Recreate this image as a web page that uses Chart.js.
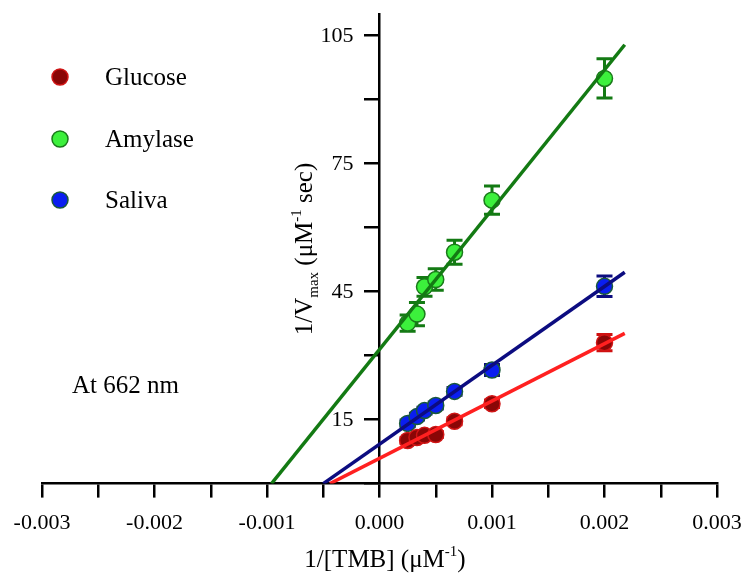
<!DOCTYPE html>
<html><head><meta charset="utf-8">
<script src="https://cdn.jsdelivr.net/npm/chart.js@4"></script>
<style>html,body{margin:0;padding:0;background:#fff;}#wrap{width:744px;height:575px;}</style>
</head><body><div id="wrap"><canvas id="c" width="744" height="575"></canvas></div>
<script>
// ---- data ----
const invTMB = [0.00025, 0.000333, 0.0004, 0.0005, 0.000667, 0.001, 0.002];
const glucose = [10.1, 10.8, 11.3, 11.5, 14.6, 18.7, 33.0];
const glucoseErr = [0.7, 0.7, 0.7, 0.7, 0.8, 0.9, 1.9];
const amylase = [37.6, 39.7, 46.1, 47.8, 54.2, 66.4, 94.9];
const amylaseErr = [1.9, 2.7, 2.2, 2.5, 2.8, 3.3, 4.6];
const saliva = [14.1, 15.7, 17.1, 18.3, 21.6, 26.6, 46.2];
const salivaErr = [0.8, 0.8, 0.8, 0.8, 0.9, 1.3, 2.4];
const glucoseFitX = [-0.00044, 0.00218];
const glucoseFitY = [0, 35.2];
const amylaseFitX = [-0.00096, 0.00218];
const amylaseFitY = [0, 102.8];
const salivaFitX = [-0.0005, 0.00218];
const salivaFitY = [0, 49.5];
const xTickLabels = ['-0.003', '-0.002', '-0.001', '0.000', '0.001', '0.002', '0.003'];
const yTickLabels = ['15', '45', '75', '105'];
const seriesNames = ['Glucose', 'Amylase', 'Saliva'];
const noteText = 'At 662 nm';

const SERIF = '"Liberation Serif", "Times New Roman", serif';
const pts = (xs, ys) => xs.map((x, i) => ({x: x, y: ys[i]}));

const styles = {
  Glucose: {fill: '#8a0606', border: '#d01515', line: '#ff2020', err: '#d01010'},
  Amylase: {fill: '#3cf03c', border: '#1b7a1b', line: '#137a13', err: '#137a13'},
  Saliva:  {fill: '#0a1ef0', border: '#1a5a3a', line: '#0c0c80', err: '#0c0c80'}
};

function scatterDs(name, ys, errs) {
  const s = styles[name];
  return {label: name, type: 'scatter', data: pts(invTMB, ys), errors: errs,
    backgroundColor: s.fill, borderColor: s.border, borderWidth: 1.5,
    pointRadius: 8, pointHoverRadius: 8, order: 1, errColor: s.err};
}
function fitDs(name, xs, ys) {
  const s = styles[name];
  return {label: name + ' fit', type: 'scatter', showLine: true, data: pts(xs, ys),
    borderColor: s.line, borderWidth: 3.5, pointRadius: 0, pointHoverRadius: 0, order: 0, isFit: true};
}

const errorBars = {
  id: 'errorBars',
  beforeDatasetsDraw(chart) {
    const ctx = chart.ctx, xs = chart.scales.x, ys = chart.scales.y;
    chart.data.datasets.forEach(ds => {
      if (!ds.errors) return;
      ctx.save();
      ctx.strokeStyle = ds.errColor; ctx.lineWidth = 3;
      ds.data.forEach((p, i) => {
        const e = ds.errors[i];
        const px = xs.getPixelForValue(p.x);
        const top = ys.getPixelForValue(p.y + e), bot = ys.getPixelForValue(p.y - e);
        ctx.beginPath();
        ctx.moveTo(px, top); ctx.lineTo(px, bot);
        ctx.moveTo(px - 8, top); ctx.lineTo(px + 8, top);
        ctx.moveTo(px - 8, bot); ctx.lineTo(px + 8, bot);
        ctx.stroke();
      });
      ctx.restore();
    });
  }
};

function drawRich(ctx, parts, x, y, align) {
  let total = 0;
  parts.forEach(p => { ctx.font = p[1] + 'px ' + SERIF; p.w = ctx.measureText(p[0]).width; total += p.w; });
  let cx = align === 'center' ? x - total / 2 : x;
  ctx.textAlign = 'left'; ctx.textBaseline = 'alphabetic';
  parts.forEach(p => { ctx.font = p[1] + 'px ' + SERIF; ctx.fillText(p[0], cx, y + p[2]); cx += p.w; });
}

const decorations = {
  id: 'decorations',
  afterDraw(chart) {
    const ctx = chart.ctx, xs = chart.scales.x, ys = chart.scales.y;
    ctx.save();
    ctx.fillStyle = '#000';
    const ax = xs.getPixelForValue(0);
    ctx.font = '22px ' + SERIF; ctx.textAlign = 'right'; ctx.textBaseline = 'middle';
    yTickLabels.forEach(t => { ctx.fillText(t, ax - 26, ys.getPixelForValue(parseFloat(t)) + 1); });
    drawRich(ctx, [['1/[TMB] (\u03bcM', 25, 0], ['-1', 15, -11], [')', 25, 0]], 385, 567, 'center');
    ctx.save();
    ctx.translate(312, 249); ctx.rotate(-Math.PI / 2);
    drawRich(ctx, [['1/V', 25, 0], ['max', 15, 6], [' (\u03bcM', 25, 0], ['-1', 15, -11], [' sec)', 25, 0]], 0, 0, 'center');
    ctx.restore();
    const ly = [77, 139, 200];
    seriesNames.forEach((n, i) => {
      const s = styles[n];
      ctx.beginPath(); ctx.arc(60, ly[i], 8, 0, Math.PI * 2);
      ctx.fillStyle = s.fill; ctx.fill();
      ctx.lineWidth = 1.5; ctx.strokeStyle = s.border; ctx.stroke();
      ctx.fillStyle = '#000'; ctx.font = '25px ' + SERIF; ctx.textAlign = 'left'; ctx.textBaseline = 'alphabetic';
      ctx.fillText(n, 105, ly[i] + 8);
    });
    ctx.font = '25px ' + SERIF; ctx.textAlign = 'left'; ctx.textBaseline = 'alphabetic';
    ctx.fillText(noteText, 72, 393);
    ctx.restore();
  }
};

new Chart(document.getElementById('c'), {
  type: 'scatter',
  data: {datasets: [
    fitDs('Glucose', glucoseFitX, glucoseFitY),
    fitDs('Amylase', amylaseFitX, amylaseFitY),
    fitDs('Saliva', salivaFitX, salivaFitY),
    scatterDs('Glucose', glucose, glucoseErr),
    scatterDs('Amylase', amylase, amylaseErr),
    scatterDs('Saliva', saliva, salivaErr)
  ]},
  options: {
    responsive: false, animation: false, devicePixelRatio: 1,
    layout: {padding: {left: 42, right: 27, top: 14, bottom: 27}},
    plugins: {legend: {display: false}, tooltip: {enabled: false}},
    scales: {
      x: {type: 'linear', position: 'bottom', min: -0.003, max: 0.003,
        afterFit: s => { s.paddingLeft = 10; s.paddingRight = 10; },
        grid: {display: true, drawOnChartArea: false, drawTicks: true, tickLength: 14, lineWidth: 2.5, color: '#000'},
        border: {display: true, color: '#000', width: 2.5},
        ticks: {stepSize: 0.0005, autoSkip: false, maxRotation: 0, padding: 12, color: '#000',
          font: {family: SERIF, size: 22},
          callback: v => {
            const k = v * 1000;
            if (Math.abs(k - Math.round(k)) < 1e-6) return xTickLabels[Math.round(k) + 3];
            return '';
          }},
        title: {display: false}},
      y: {type: 'linear', position: {x: 0}, min: 0, max: 110,
        grid: {display: true, drawOnChartArea: false, drawTicks: true, tickLength: 14, lineWidth: 2.5, color: '#000'},
        border: {display: true, color: '#000', width: 2.5},
        ticks: {stepSize: 15, includeBounds: false, display: false},
        title: {display: false}}
    }
  },
  plugins: [errorBars, decorations]
});
</script></body></html>
